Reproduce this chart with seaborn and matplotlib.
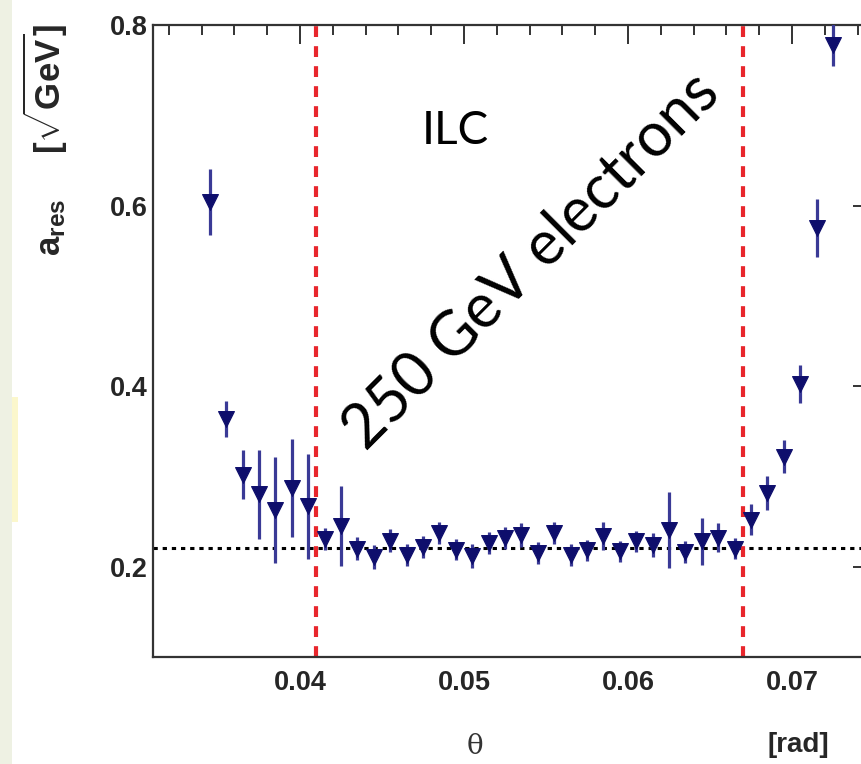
import matplotlib
matplotlib.use("Agg")
import matplotlib.pyplot as plt
import matplotlib.patches as mpatches
from matplotlib.ticker import MultipleLocator, FixedLocator
import seaborn as sns
import pandas as pd

# ---- data ----
theta = [0.0345, 0.0355, 0.0365, 0.0375, 0.0385, 0.0395, 0.0405, 0.0415, 0.0425,
         0.0435, 0.0445, 0.0455, 0.0465, 0.0475, 0.0485, 0.0495, 0.0505, 0.0515,
         0.0525, 0.0535, 0.0545, 0.0555, 0.0565, 0.0575, 0.0585, 0.0595, 0.0605,
         0.0615, 0.0625, 0.0635, 0.0645, 0.0655, 0.0665, 0.0675, 0.0685, 0.0695,
         0.0705, 0.0715, 0.0725]
a_res = [0.604, 0.364, 0.302, 0.280, 0.263, 0.287, 0.267, 0.231, 0.245,
         0.220, 0.211, 0.229, 0.213, 0.222, 0.237, 0.219, 0.212, 0.226,
         0.232, 0.235, 0.215, 0.237, 0.213, 0.218, 0.234, 0.217, 0.228,
         0.224, 0.241, 0.216, 0.228, 0.232, 0.220, 0.252, 0.282, 0.322,
         0.402, 0.575, 0.778]
a_err = [0.037, 0.020, 0.027, 0.049, 0.059, 0.054, 0.058, 0.012, 0.044,
         0.013, 0.013, 0.013, 0.012, 0.012, 0.012, 0.012, 0.013, 0.012,
         0.012, 0.013, 0.012, 0.012, 0.012, 0.012, 0.015, 0.012, 0.012,
         0.013, 0.042, 0.012, 0.026, 0.016, 0.012, 0.017, 0.019, 0.018,
         0.021, 0.032, 0.023]
fit_level = 0.221
acceptance_edges = [0.041, 0.067]
x_ticks = [0.04, 0.05, 0.06, 0.07]
x_tick_labels = ["0.04", "0.05", "0.06", "0.07"]
y_ticks = [0.2, 0.4, 0.6, 0.8]
y_tick_labels = ["0.2", "0.4", "0.6", "0.8"]

df = pd.DataFrame({"theta": theta, "a_res": a_res, "err": a_err})

sns.set_style("white")
plt.rcParams["mathtext.fontset"] = "custom"
plt.rcParams["mathtext.rm"] = "Liberation Sans"
plt.rcParams["mathtext.bf"] = "Liberation Sans:bold"

W, H = 862, 764
fig = plt.figure(figsize=(W / 100, H / 100), dpi=100)
fig.patch.set_facecolor("white")

# left page strip
fig.patches.append(mpatches.Rectangle((0, 0), 12 / W, 1, transform=fig.transFigure,
                                      facecolor="#eef1e3", edgecolor="none", zorder=0))
fig.patches.append(mpatches.Rectangle((12 / W, 1 - 522 / H), 6 / W, 125 / H,
                                      transform=fig.transFigure,
                                      facecolor="#fbf7cc", edgecolor="none", zorder=0))

left, right, top, bottom = 153, 872, 25, 657
ax = fig.add_axes([left / W, 1 - bottom / H, (right - left) / W, (bottom - top) / H])
ax.set_facecolor("white")

# reference lines
ax.axhline(fit_level, color="black", lw=2.2, dashes=(1.4, 1.6), zorder=2)
for xe in acceptance_edges:
    ax.axvline(xe, color="#e8262c", lw=3.0, dashes=(2.6, 2.2), zorder=2)

# data
ax.errorbar(df["theta"], df["a_res"], yerr=df["err"], fmt="none",
            ecolor="#3a3a96", elinewidth=2.3, capsize=0, zorder=3)
sns.scatterplot(data=df, x="theta", y="a_res", marker="v", s=130,
                color="#0e0e6c", edgecolor="#0e0e6c", linewidth=0.8,
                zorder=4, ax=ax, legend=False)

ax.set_xlim(0.03104, 0.07488)
ax.set_ylim(0.1, 0.8)

ax.xaxis.set_major_locator(FixedLocator(x_ticks))
ax.set_xticklabels(x_tick_labels)
ax.xaxis.set_minor_locator(MultipleLocator(0.002))
ax.yaxis.set_major_locator(FixedLocator(y_ticks))
ax.set_yticklabels(y_tick_labels)
ax.yaxis.set_minor_locator(MultipleLocator(0.05))

spine_col = "#333333"
for s in ax.spines.values():
    s.set_color(spine_col)
    s.set_linewidth(1.6)
    s.set_visible(True)

ax.tick_params(which="both", direction="in", top=True, right=True,
               color=spine_col, width=1.4)
ax.tick_params(which="major", length=14)
ax.tick_params(which="minor", length=7)
ax.tick_params(axis="x", which="major", pad=9)
ax.tick_params(axis="y", which="major", pad=4)
for lab in ax.get_xticklabels() + ax.get_yticklabels():
    lab.set_fontfamily("Liberation Sans")
    lab.set_fontweight("bold")
    lab.set_fontsize(19.5)
    lab.set_color("#262626")

ax.set_xlabel("")
ax.set_ylabel("")

# axis titles (ROOT style)
fig.text(475 / W, 1 - 746 / H, "θ", family="DejaVu Serif", fontsize=20,
         color="#333333", ha="center", va="center")
fig.text(798 / W, 1 - 745 / H, "[rad]", family="Liberation Sans", fontweight="bold",
         fontsize=20, color="#262626", ha="center", va="center")
fig.text(45 / W, 1 - 24 / H, r"$\mathbf{a_{res}\ \ \ \ [\sqrt{GeV}]}$", fontsize=25,
         color="#262626", rotation=90, ha="center", va="top")

# annotations
ax.text(0.42, 0.832, "ILC", transform=ax.transAxes, family="Lato",
        fontweight="normal", fontsize=33, color="black", ha="center", va="center")
ax.text(0.526, 0.626, "250 GeV electrons", transform=ax.transAxes, family="Lato",
        fontweight="normal", fontsize=44, color="black", ha="center", va="center",
        rotation=45, rotation_mode="anchor")

fig.savefig("out.png", dpi=100, facecolor=fig.get_facecolor())
